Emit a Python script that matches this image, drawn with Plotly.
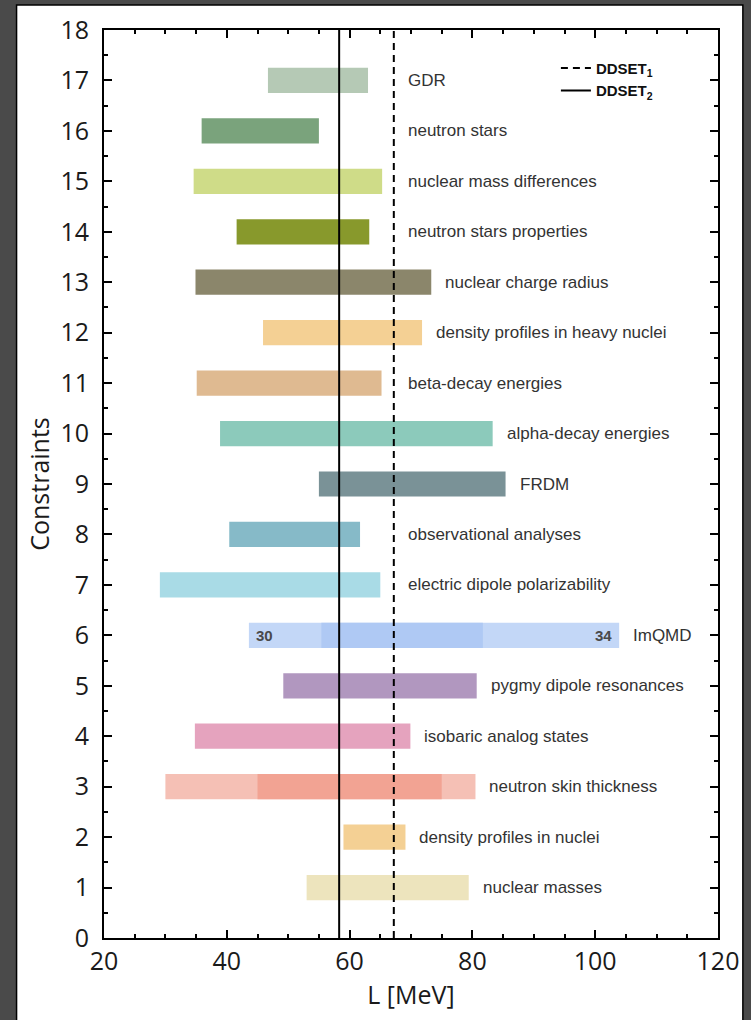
import plotly.graph_objects as go

# Constraint index on the y axis (1 = bottom row)
positions = list(range(1, 18))
names = [
    "nuclear masses",
    "density profiles in nuclei",
    "neutron skin thickness",
    "isobaric analog states",
    "pygmy dipole resonances",
    "ImQMD",
    "electric dipole polarizability",
    "observational analyses",
    "FRDM",
    "alpha-decay energies",
    "beta-decay energies",
    "density profiles in heavy nuclei",
    "nuclear charge radius",
    "neutron stars properties",
    "nuclear mass differences",
    "neutron stars",
    "GDR",
]
# Lower / upper bounds of L [MeV] for each constraint
low = [53.0, 59.0, 30.0, 34.8, 49.2, 43.6, 29.1, 40.4, 55.0, 38.9,
       35.1, 45.9, 34.9, 41.6, 34.6, 35.9, 46.7]
high = [79.4, 69.1, 80.5, 69.9, 80.7, 103.9, 65.0, 61.7, 85.4, 83.3,
        65.2, 71.8, 73.3, 63.2, 65.3, 55.0, 63.0]
colors = [
    "#ede4bd", "#f4d094", "#f5c0b5", "#e5a3be", "#b197bf", "#c3d7f7",
    "#a9dbe6", "#86bac8", "#7a9297", "#8ccabb", "#dfba91", "#f4d094",
    "#8b866b", "#88992c", "#cfdc88", "#7aa37c", "#b5c9b5",
]

# Narrower, darker core ranges drawn on top of two of the rows
inner_pos = [3, 6]
inner_low = [45.0, 55.4]
inner_high = [75.0, 81.7]
inner_colors = ["#f2a393", "#afc9f4"]

# Tags printed inside the ImQMD bar
imqmd_tags = ["30", "34"]

# Slope parameter values of the two parameter sets
ddset1_L = 67.2
ddset2_L = 58.3

label_font = dict(family="Liberation Sans, Arial, sans-serif", size=17, color="#333333")
axis_font = dict(family="Open Sans, sans-serif", size=25, color="#1a1a1a")

fig = go.Figure()

fig.add_trace(go.Bar(
    y=positions,
    x=[h - l for l, h in zip(low, high)],
    base=low,
    orientation="h",
    width=0.5,
    marker=dict(color=colors, line=dict(width=0)),
    showlegend=False,
    hoverinfo="skip",
))
fig.add_trace(go.Bar(
    y=inner_pos,
    x=[h - l for l, h in zip(inner_low, inner_high)],
    base=inner_low,
    orientation="h",
    width=0.5,
    marker=dict(color=inner_colors, line=dict(width=0)),
    showlegend=False,
    hoverinfo="skip",
))

fig.add_trace(go.Scatter(
    x=[ddset1_L, ddset1_L], y=[0, 18], mode="lines",
    line=dict(color="black", width=2, dash="7px,5px"),
    name="<b>DDSET<sub>1</sub></b>",
))
fig.add_trace(go.Scatter(
    x=[ddset2_L, ddset2_L], y=[0, 18], mode="lines",
    line=dict(color="black", width=2),
    name="<b>DDSET<sub>2</sub></b>",
))

annotations = []
for p, n, h in zip(positions, names, high):
    annotations.append(dict(
        x=max(h, ddset1_L), y=p, xref="x", yref="y", text=n,
        showarrow=False, xanchor="left", yanchor="middle", xshift=12,
        font=label_font,
    ))

imqmd_i = names.index("ImQMD")
tag_font = dict(family="Liberation Sans, Arial, sans-serif", size=15, color="#4a4a4a")
annotations.append(dict(
    x=low[imqmd_i], y=positions[imqmd_i], text="<b>" + imqmd_tags[0] + "</b>",
    showarrow=False, xanchor="left", yanchor="middle", xshift=5, font=tag_font,
))
annotations.append(dict(
    x=high[imqmd_i], y=positions[imqmd_i], text="<b>" + imqmd_tags[1] + "</b>",
    showarrow=False, xanchor="right", yanchor="middle", xshift=-5, font=tag_font,
))

# White panel on the dark page background
shapes = [dict(
    type="rect", xref="paper", yref="paper",
    x0=-0.1424, x1=1.0405, y0=-0.12, y1=1.0275,
    fillcolor="white", line=dict(color="black", width=1.5), layer="below",
)]

fig.update_layout(
    width=751, height=1020,
    margin=dict(l=104, r=29, t=28, b=82),
    paper_bgcolor="#4a4a4a",
    plot_bgcolor="white",
    barmode="overlay",
    shapes=shapes,
    annotations=annotations,
    legend=dict(
        x=0.736, y=0.976, xanchor="left", yanchor="top",
        bgcolor="rgba(0,0,0,0)",
        font=dict(family="Liberation Sans, Arial, sans-serif", size=15, color="#111111"),
        tracegroupgap=0, itemwidth=30,
    ),
    xaxis=dict(
        range=[20, 120], dtick=20, tick0=20,
        ticks="inside", ticklen=8, tickwidth=1.5, tickcolor="black",
        showline=True, linecolor="black", linewidth=2, mirror="ticks",
        showgrid=False, zeroline=False,
        minor=dict(dtick=5, ticks="inside", ticklen=4, tickwidth=1.5, tickcolor="black", showgrid=False),
        tickfont=axis_font,
        title=dict(text="L [MeV]", font=axis_font, standoff=10),
    ),
    yaxis=dict(
        range=[0, 18], dtick=1, tick0=0,
        ticks="inside", ticklen=8, tickwidth=1.5, tickcolor="black",
        showline=True, linecolor="black", linewidth=2, mirror="ticks",
        showgrid=False, zeroline=False,
        minor=dict(dtick=0.5, ticks="inside", ticklen=4, tickwidth=1.5, tickcolor="black", showgrid=False),
        tickfont=axis_font, ticklabelstandoff=8,
        title=dict(text="Constraints", font=axis_font, standoff=4),
    ),
)

fig.write_html("out.html")
